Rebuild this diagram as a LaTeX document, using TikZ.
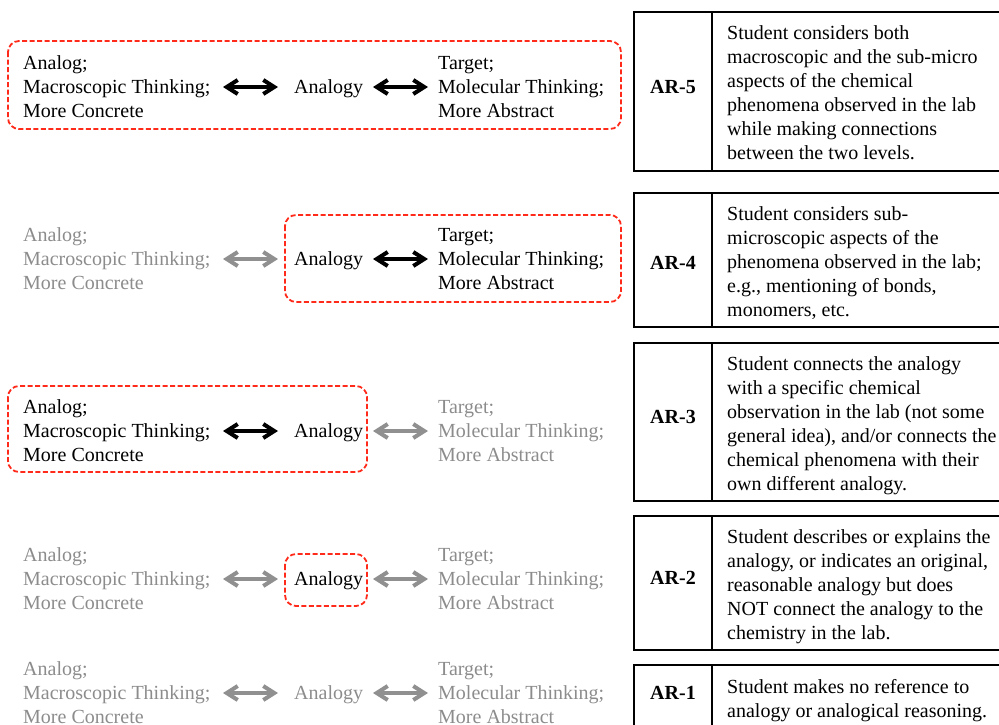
\documentclass[tikz,border=0pt]{standalone}
\usepackage{fontspec}
\setmainfont{Liberation Serif}
\usetikzlibrary{arrows.meta}
\definecolor{dimtext}{HTML}{8C8C8C}
\definecolor{dimarrow}{HTML}{909090}
\definecolor{redline}{HTML}{FF2A1A}
\tikzset{
  txt/.style={inner sep=0pt, align=left, anchor=north west, font=\fontsize{20}{24}\selectfont},
  one/.style={inner sep=0pt, anchor=base west, font=\fontsize{20}{24}\selectfont},
  lab/.style={inner sep=0pt, anchor=base, font=\fontsize{20}{24}\selectfont\bfseries},
  dim/.style={text=dimtext},
  dblarrow/.style={line width=4pt, {Straight Barb[length=11pt,width=14pt]}-{Straight Barb[length=11pt,width=14pt]}},
  blackarrow/.style={dblarrow, draw=black},
  greyarrow/.style={dblarrow, draw=dimarrow},
  hilite/.style={draw=redline, dashed, dash pattern=on 5pt off 2.5pt, line width=1.8pt, rounded corners=11pt},
  cell/.style={draw=black, line width=2pt}
}
\begin{document}
\begin{tikzpicture}[x=1pt,y=-1pt]
\useasboundingbox (0,0) rectangle (999,724);

% ---------- Row AR-5 (baseline middle 93) ----------
\node[txt] (L5) at (23,55.3) {Analog;\\Macroscopic Thinking;\\More Concrete};
\node[one] (A5) at (294,93) {Analogy};
\node[txt] (T5) at (438,55.8) {Target;\\Molecular Thinking;\\More Abstract};
\coordinate (p5a) at (223,87); \coordinate (p5b) at (278,87);
\coordinate (p5c) at (373,87); \coordinate (p5d) at (428,87);
\draw[blackarrow] (p5a) -- (p5b);
\draw[blackarrow] (p5c) -- (p5d);
\draw[hilite] (8,41) rectangle (621,129);

% ---------- Row AR-4 (baseline middle 265) ----------
\node[txt,dim] (L4) at (23,227.3) {Analog;\\Macroscopic Thinking;\\More Concrete};
\node[one] (A4) at (294,265) {Analogy};
\node[txt] (T4) at (438,227.8) {Target;\\Molecular Thinking;\\More Abstract};
\coordinate (p4a) at (223,259); \coordinate (p4b) at (278,259);
\coordinate (p4c) at (373,259); \coordinate (p4d) at (428,259);
\draw[greyarrow] (p4a) -- (p4b);
\draw[blackarrow] (p4c) -- (p4d);
\draw[hilite] (285,215) rectangle (621,302);

% ---------- Row AR-3 (baseline middle 437) ----------
\node[txt] (L3) at (23,399.3) {Analog;\\Macroscopic Thinking;\\More Concrete};
\node[one] (A3) at (294,437) {Analogy};
\node[txt,dim] (T3) at (438,399.8) {Target;\\Molecular Thinking;\\More Abstract};
\coordinate (p3a) at (223,431); \coordinate (p3b) at (278,431);
\coordinate (p3c) at (373,431); \coordinate (p3d) at (428,431);
\draw[blackarrow] (p3a) -- (p3b);
\draw[greyarrow] (p3c) -- (p3d);
\draw[hilite] (8,386) rectangle (367,472);

% ---------- Row AR-2 (baseline middle 585) ----------
\node[txt,dim] (L2) at (23,547.3) {Analog;\\Macroscopic Thinking;\\More Concrete};
\node[one] (A2) at (294,585) {Analogy};
\node[txt,dim] (T2) at (438,547.8) {Target;\\Molecular Thinking;\\More Abstract};
\coordinate (p2a) at (223,579); \coordinate (p2b) at (278,579);
\coordinate (p2c) at (373,579); \coordinate (p2d) at (428,579);
\draw[greyarrow] (p2a) -- (p2b);
\draw[greyarrow] (p2c) -- (p2d);
\draw[hilite] (285,554) rectangle (367,606);

% ---------- Row AR-1 (baseline middle 699) ----------
\node[txt,dim] (L1) at (23,661.3) {Analog;\\Macroscopic Thinking;\\More Concrete};
\node[one,dim] (A1) at (294,699) {Analogy};
\node[txt,dim] (T1) at (438,661.8) {Target;\\Molecular Thinking;\\More Abstract};
\coordinate (p1a) at (223,693); \coordinate (p1b) at (278,693);
\coordinate (p1c) at (373,693); \coordinate (p1d) at (428,693);
\draw[greyarrow] (p1a) -- (p1b);
\draw[greyarrow] (p1c) -- (p1d);

% ---------- Table ----------
\draw[cell] (634,12) rectangle (1010,171);  \draw[cell] (712,12) -- (712,171);
\draw[cell] (634,193) rectangle (1010,327); \draw[cell] (712,193) -- (712,327);
\draw[cell] (634,343) rectangle (1010,501); \draw[cell] (712,343) -- (712,501);
\draw[cell] (634,516) rectangle (1010,650); \draw[cell] (712,516) -- (712,650);
\draw[cell] (634,665) rectangle (1010,740); \draw[cell] (712,665) -- (712,740);

\node[lab] (R5) at (673,93) {AR-5};
\node[lab] (R4) at (673,269) {AR-4};
\node[lab] (R3) at (673,423) {AR-3};
\node[lab] (R2) at (673,584) {AR-2};
\node[lab] (R1) at (673,699) {AR-1};

\node[txt] (D5) at (727,25.3) {Student considers both\\macroscopic and the sub-micro\\aspects of the chemical\\phenomena observed in the lab\\while making connections\\between the two levels.};
\node[txt] (D4) at (727,206.3) {Student considers sub-\\microscopic aspects of the\\phenomena observed in the lab;\\e.g., mentioning of bonds,\\monomers, etc.};
\node[txt] (D3) at (727,356.3) {Student connects the analogy\\with a specific chemical\\observation in the lab (not some\\general idea), and/or connects the\\chemical phenomena with their\\own different analogy.};
\node[txt] (D2) at (727,529.3) {Student describes or explains the\\analogy, or indicates an original,\\reasonable analogy but does\\NOT connect the analogy to the\\chemistry in the lab.};
\node[txt] (D1) at (727,679.3) {Student makes no reference to\\analogy or analogical reasoning.};
\end{tikzpicture}
\end{document}
